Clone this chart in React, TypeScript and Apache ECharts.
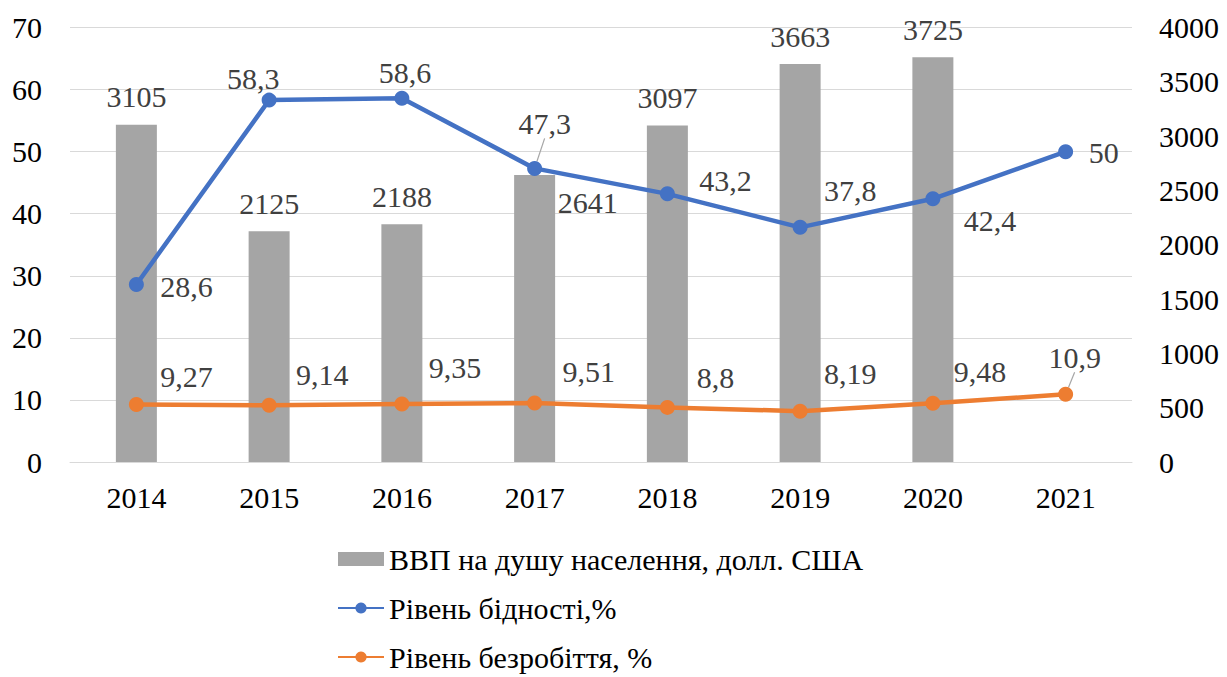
import React, { useEffect, useRef } from "react";
import * as echarts from "echarts";

const years = ["2014", "2015", "2016", "2017", "2018", "2019", "2020", "2021"];
const gdpPerCapita = [3105, 2125, 2188, 2641, 3097, 3663, 3725, null];
const povertyRate = [28.6, 58.3, 58.6, 47.3, 43.2, 37.8, 42.4, 50];
const unemploymentRate = [9.27, 9.14, 9.35, 9.51, 8.8, 8.19, 9.48, 10.9];

const gdpName = "ВВП на душу населення, долл. США";
const povertyName = "Рівень бідності,%";
const unemploymentName = "Рівень безробіття, %";

// label placement (style only): offset of label centre from the point
const povertyLabelOffsets = [
  [50, 2], [-16, -22], [3, -26], [10, -45], [58, -13], [50, -37], [57, 22], [38, 1],
];
const povertyLeader = [false, false, false, true, false, false, false, false];
const unemploymentLabelOffsets = [
  [50, -28], [53, -31], [53, -36], [54, -31], [48, -30], [50, -38], [47, -32], [9, -37],
];
const unemploymentLeader = [false, false, false, false, false, false, false, true];

const FONT = "Liberation Serif, DejaVu Serif";
const LABEL_COLOR = "#404040";
const FS = 30;

const fmt = (p: any) => String(p.value).replace(".", ",");

function lineData(values: number[], offsets: number[][], leader: boolean[]) {
  return values.map((v, i) => ({
    value: v,
    label: { offset: offsets[i] },
    labelLine: leader[i]
      ? { show: true, length2: 0, smooth: false, lineStyle: { color: "#a6a6a6", width: 1.2 } }
      : { show: false },
  }));
}

export default function App() {
  const ref = useRef<HTMLDivElement>(null);
  useEffect(() => {
    if (!ref.current) return;
    const chart = echarts.init(ref.current, undefined, { renderer: "svg" });
    const option: any = {
      animation: false,
      backgroundColor: "#ffffff",
      textStyle: { fontFamily: FONT },
      grid: { left: 70, right: 95, top: 27.5, bottom: 215, containLabel: false },
      legend: {
        orient: "vertical",
        left: 337,
        top: 544,
        height: 135,
        padding: 0,
        itemWidth: 46,
        itemHeight: 14,
        itemGap: 19,
        textStyle: { fontFamily: FONT, fontSize: FS, color: "#000000" },
        data: [
          { name: gdpName, icon: "rect" },
          { name: povertyName },
          { name: unemploymentName },
        ],
      },
      xAxis: {
        type: "category",
        data: years,
        boundaryGap: true,
        axisLine: { show: true, lineStyle: { color: "#d9d9d9", width: 1 } },
        axisTick: { show: false },
        axisLabel: { fontFamily: FONT, fontSize: FS, color: "#000000", margin: 20 },
      },
      yAxis: [
        {
          type: "value",
          min: 0,
          max: 70,
          interval: 10,
          axisLine: { show: false },
          axisTick: { show: false },
          splitLine: { show: true, lineStyle: { color: "#d9d9d9", width: 1 } },
          axisLabel: { fontFamily: FONT, fontSize: FS, color: "#000000", margin: 28 },
        },
        {
          type: "value",
          min: 0,
          max: 4000,
          interval: 500,
          position: "right",
          axisLine: { show: false },
          axisTick: { show: false },
          splitLine: { show: false },
          axisLabel: {
            fontFamily: FONT,
            fontSize: FS,
            color: "#000000",
            margin: 27,
            align: "left",
            formatter: (v: number) => String(v),
          },
        },
      ],
      series: [
        {
          name: gdpName,
          type: "bar",
          yAxisIndex: 1,
          barWidth: 41,
          itemStyle: { color: "#a5a5a5" },
          label: {
            show: true,
            position: "top",
            distance: 13,
            fontFamily: FONT,
            fontSize: FS,
            color: LABEL_COLOR,
          },
          data: gdpPerCapita.map((v, i) =>
            i === 3
              ? { value: v, label: { offset: [53, 55] } }
              : { value: v }
          ),
        },
        {
          name: povertyName,
          type: "line",
          yAxisIndex: 0,
          symbol: "circle",
          symbolSize: 15,
          lineStyle: { color: "#4472c4", width: 4.5 },
          itemStyle: { color: "#4472c4" },
          label: {
            show: true,
            position: "inside",
            fontFamily: FONT,
            fontSize: FS,
            color: LABEL_COLOR,
            formatter: fmt,
          },
          data: lineData(povertyRate, povertyLabelOffsets, povertyLeader),
          z: 3,
        },
        {
          name: unemploymentName,
          type: "line",
          yAxisIndex: 0,
          symbol: "circle",
          symbolSize: 15,
          lineStyle: { color: "#ed7d31", width: 4.5 },
          itemStyle: { color: "#ed7d31" },
          label: {
            show: true,
            position: "inside",
            fontFamily: FONT,
            fontSize: FS,
            color: LABEL_COLOR,
            formatter: fmt,
          },
          data: lineData(unemploymentRate, unemploymentLabelOffsets, unemploymentLeader),
          z: 3,
        },
      ],
    };
    chart.setOption(option);
    return () => chart.dispose();
  }, []);
  return (
    <div
      ref={ref}
      style={{ position: "fixed", left: 0, top: 0, width: 1227, height: 677, background: "#fff" }}
    />
  );
}
